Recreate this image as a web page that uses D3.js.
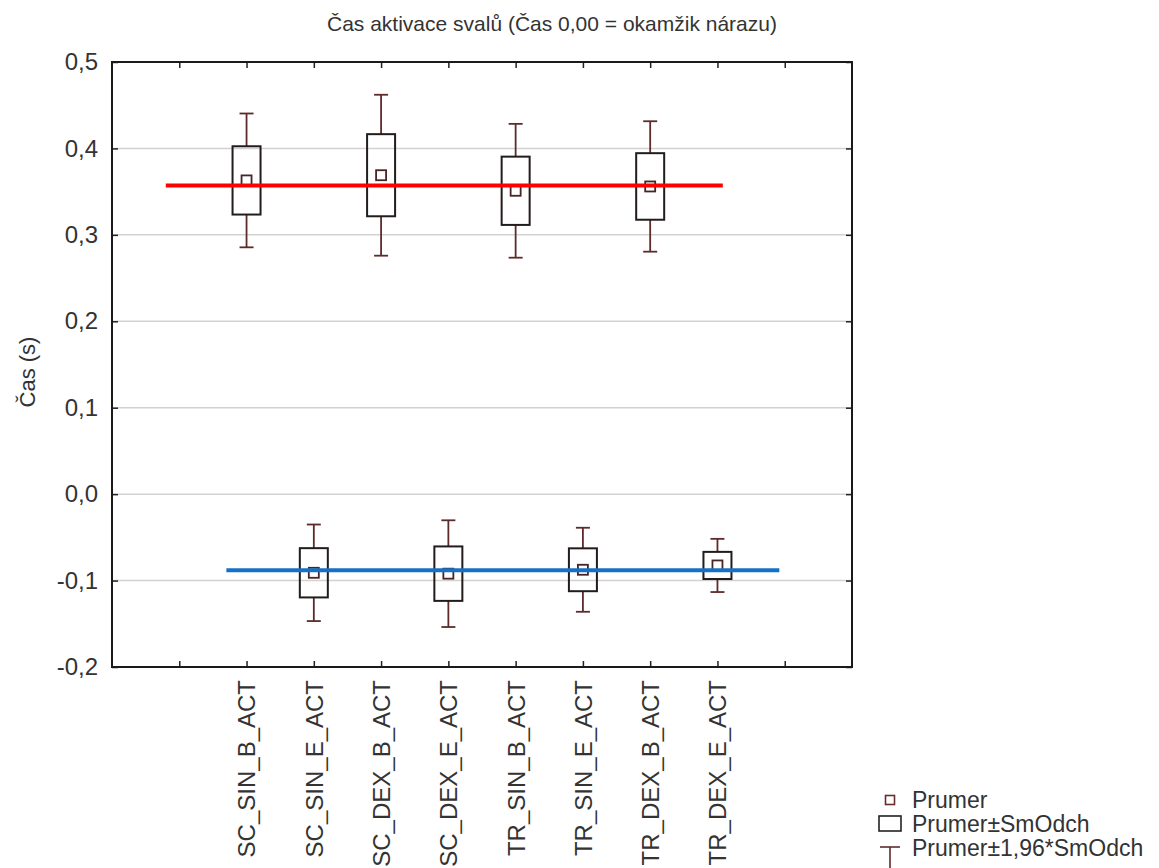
<!DOCTYPE html>
<html>
<head>
<meta charset="utf-8">
<script src="https://cdn.jsdelivr.net/npm/d3@7/dist/d3.min.js"></script>
<style>
  html, body { margin: 0; padding: 0; background: #fff; }
  svg { display: block; font-family: "Liberation Sans", Arial, sans-serif; }
</style>
</head>
<body>
<svg id="chart" width="1159" height="868"></svg>
<script>
// Muscle activation times: mean and standard deviation per measured channel
const categories = ["SC_SIN_B_ACT", "SC_SIN_E_ACT", "SC_DEX_B_ACT", "SC_DEX_E_ACT",
                    "TR_SIN_B_ACT", "TR_SIN_E_ACT", "TR_DEX_B_ACT", "TR_DEX_E_ACT"];
const means = [0.363, -0.091, 0.369, -0.092, 0.351, -0.0875, 0.356, -0.0825];
const sds   = [0.0395, 0.0285, 0.0475, 0.0315, 0.0395, 0.0248, 0.0385, 0.0157];
const ciFactor = 1.96;

// category slot positions on the x axis (slots 1..10 carry ticks)
const slots = [2, 3, 4, 5, 6, 7, 8, 9];
const tickSlots = [1, 2, 3, 4, 5, 6, 7, 8, 9, 10];
const yTicks = [0.5, 0.4, 0.3, 0.2, 0.1, 0.0, -0.1, -0.2];

// horizontal group mean lines: [value, from slot, to slot]
const redLine  = [0.357, 0.8, 9.08];
const blueLine = [-0.088, 1.7, 9.92];

const legendLabels = ["Prumer", "Prumer\u00b1SmOdch", "Prumer\u00b11,96*SmOdch"];

const title = "Čas aktivace svalů (Čas 0,00 = okamžik nárazu)";
const yTitle = "Čas (s)";

const svg = d3.select("#chart");
const L = 112, R = 852, T = 62, B = 667;

const x = d3.scaleLinear().domain([0, 11]).range([L, R]);
const y = d3.scaleLinear().domain([-0.2, 0.5]).range([B, T]);
const fmt = v => d3.format(".1f")(v).replace(".", ",").replace("−", "-");

// grid lines
svg.append("g").selectAll("line").data(yTicks.filter(v => v < 0.5 && v > -0.2)).join("line")
  .attr("x1", L).attr("x2", R)
  .attr("y1", d => y(d)).attr("y2", d => y(d))
  .attr("stroke", "#d2d2d2").attr("stroke-width", 1.5);

// left axis with inward ticks
const yAxis = svg.append("g").attr("transform", `translate(${L},0)`)
  .call(d3.axisLeft(y).tickValues(yTicks).tickFormat(fmt).tickSizeInner(-6).tickSizeOuter(0).tickPadding(14));
yAxis.select(".domain").remove();
yAxis.selectAll("line").attr("stroke", "#222").attr("stroke-width", 1.5);
yAxis.selectAll("text").attr("font-size", 24).attr("fill", "#333")
  .attr("font-family", "Liberation Sans, Arial, sans-serif");

// right axis ticks (mirrored)
const yAxisR = svg.append("g").attr("transform", `translate(${R},0)`)
  .call(d3.axisRight(y).tickValues(yTicks).tickFormat("").tickSizeInner(-6).tickSizeOuter(0));
yAxisR.select(".domain").remove();
yAxisR.selectAll("line").attr("stroke", "#222").attr("stroke-width", 1.5);

// bottom axis with category labels
const xAxis = svg.append("g").attr("transform", `translate(0,${B})`)
  .call(d3.axisBottom(x).tickValues(tickSlots)
    .tickFormat(d => { const i = slots.indexOf(d); return i >= 0 ? categories[i] : ""; })
    .tickSizeInner(-6).tickSizeOuter(0));
xAxis.select(".domain").remove();
xAxis.selectAll("line").attr("stroke", "#222").attr("stroke-width", 1.5);
xAxis.selectAll("text")
  .attr("font-size", 24).attr("fill", "#333")
  .attr("font-family", "Liberation Sans, Arial, sans-serif")
  .attr("transform", "rotate(-90)")
  .attr("text-anchor", "end")
  .attr("dy", "0.35em").attr("x", -13).attr("y", 0);

// top ticks (mirrored)
const xAxisT = svg.append("g").attr("transform", `translate(0,${T})`)
  .call(d3.axisTop(x).tickValues(tickSlots).tickFormat("").tickSizeInner(-6).tickSizeOuter(0));
xAxisT.select(".domain").remove();
xAxisT.selectAll("line").attr("stroke", "#222").attr("stroke-width", 1.5);

// plot frame
svg.append("rect").attr("x", L).attr("y", T).attr("width", R - L).attr("height", B - T)
  .attr("fill", "none").attr("stroke", "#1a1a1a").attr("stroke-width", 2);

// box plots: mean, mean±SD box, mean±1.96*SD whiskers
const whiskerColor = "#5e2b2b";
const boxW = 28, capW = 14, meanS = 10;
const g = svg.append("g");
categories.forEach((c, i) => {
  const cx = x(slots[i]);
  const m = means[i], s = sds[i];
  const bt = y(m + s), bb = y(m - s);
  const wt = y(m + ciFactor * s), wb = y(m - ciFactor * s);
  g.append("line").attr("x1", cx).attr("x2", cx).attr("y1", wt).attr("y2", bt)
    .attr("stroke", whiskerColor).attr("stroke-width", 1.8);
  g.append("line").attr("x1", cx).attr("x2", cx).attr("y1", bb).attr("y2", wb)
    .attr("stroke", whiskerColor).attr("stroke-width", 1.8);
  [wt, wb].forEach(yy => g.append("line")
    .attr("x1", cx - capW / 2).attr("x2", cx + capW / 2).attr("y1", yy).attr("y2", yy)
    .attr("stroke", whiskerColor).attr("stroke-width", 1.8));
  g.append("rect").attr("x", cx - boxW / 2).attr("y", bt).attr("width", boxW).attr("height", bb - bt)
    .attr("fill", "none").attr("stroke", "#221c1c").attr("stroke-width", 2);
  g.append("rect").attr("x", cx - meanS / 2).attr("y", y(m) - meanS / 2).attr("width", meanS).attr("height", meanS)
    .attr("fill", "none").attr("stroke", "#4a2424").attr("stroke-width", 1.8);
});

// group mean lines
svg.append("line").attr("x1", x(redLine[1])).attr("x2", x(redLine[2]))
  .attr("y1", y(redLine[0])).attr("y2", y(redLine[0]))
  .attr("stroke", "#ff0000").attr("stroke-width", 4);
svg.append("line").attr("x1", x(blueLine[1])).attr("x2", x(blueLine[2]))
  .attr("y1", y(blueLine[0])).attr("y2", y(blueLine[0]))
  .attr("stroke", "#1570c8").attr("stroke-width", 4);

// title
svg.append("text").attr("x", 552).attr("y", 31).attr("text-anchor", "middle")
  .attr("font-size", 21).attr("fill", "#333").text(title);

// y axis title
svg.append("text").attr("transform", "translate(35,372) rotate(-90)").attr("text-anchor", "middle")
  .attr("font-size", 22).attr("fill", "#333").text(yTitle);

// legend
const lg = svg.append("g");
const lx = 890, rows = [800, 824, 848];
lg.append("rect").attr("x", lx - 4.5).attr("y", rows[0] - 4.5).attr("width", 9).attr("height", 9)
  .attr("fill", "none").attr("stroke", "#6a2c2c").attr("stroke-width", 1.6);
lg.append("rect").attr("x", lx - 11).attr("y", rows[1] - 8).attr("width", 22).attr("height", 15)
  .attr("fill", "none").attr("stroke", "#222").attr("stroke-width", 1.6);
lg.append("line").attr("x1", lx - 10).attr("x2", lx + 10).attr("y1", rows[2] - 1).attr("y2", rows[2] - 1)
  .attr("stroke", whiskerColor).attr("stroke-width", 1.6);
lg.append("line").attr("x1", lx).attr("x2", lx).attr("y1", rows[2] - 1).attr("y2", rows[2] + 22)
  .attr("stroke", whiskerColor).attr("stroke-width", 1.6);
lg.selectAll("text").data(legendLabels).join("text")
  .attr("x", 912).attr("y", (d, i) => rows[i] + 8)
  .attr("font-size", 23).attr("fill", "#333").text(d => d);
</script>
</body>
</html>
